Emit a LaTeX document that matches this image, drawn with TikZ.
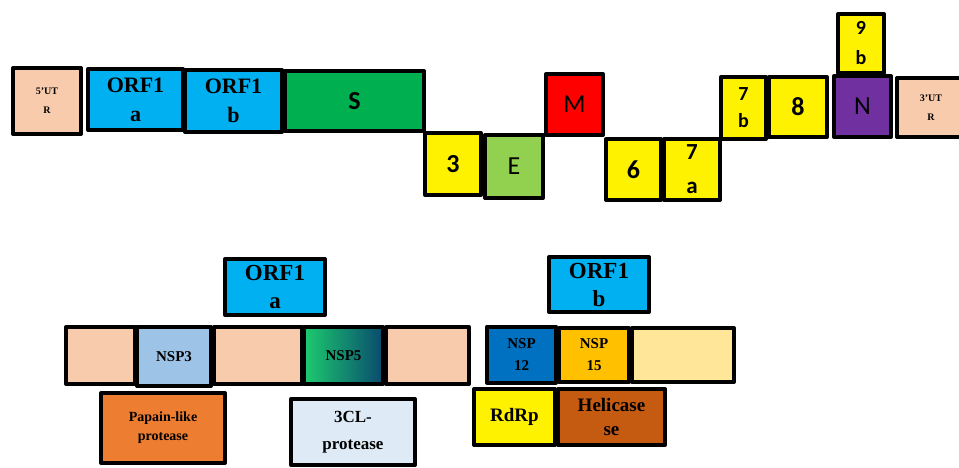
\documentclass[tikz,border=0pt]{standalone}
\usepackage{fontspec}
\setmainfont{Liberation Serif}
\newfontfamily\calfont{Carlito}

\definecolor{peach}{HTML}{F8CBAD}
\definecolor{orfblue}{HTML}{00B0F0}
\definecolor{sgreen}{HTML}{00B050}
\definecolor{egreen}{HTML}{92D050}
\definecolor{npurple}{HTML}{7030A0}
\definecolor{nspthree}{HTML}{9DC3E6}
\definecolor{nspfivea}{HTML}{1CCB6E}
\definecolor{nspfiveb}{HTML}{0A4A6E}
\definecolor{papain}{HTML}{ED7D31}
\definecolor{clpro}{HTML}{DEEBF7}
\definecolor{nsptwelve}{HTML}{0070C0}
\definecolor{nspfifteen}{HTML}{FFC000}
\definecolor{palegold}{HTML}{FFE699}
\definecolor{helibrown}{HTML}{C55A11}

\begin{document}
\begin{tikzpicture}[x=1pt,y=-1pt,
    seg/.style={draw=black,line width=4pt,line join=round,inner sep=0pt,align=center},
    ]
		\useasboundingbox (0,0) rectangle (959,467);
		\clip (0,0) rectangle (959,467);

		% genome
		\node[seg,fill=peach,minimum width=68,minimum height=66,font=\fontsize{10}{19}\selectfont\bfseries] (utrfive) at (47,101) {5'UT\\R};
		\node[seg,fill=orfblue,minimum width=95,minimum height=61,font=\fontsize{22}{29}\selectfont\bfseries] (orfa) at (135.5,99.5) {ORF1\\a};
		\node[seg,fill=orfblue,minimum width=97,minimum height=62,font=\fontsize{22}{29}\selectfont\bfseries] (orfb) at (233.5,101) {ORF1\\b};
		\node[seg,fill=sgreen,minimum width=139,minimum height=60,font=\calfont\fontsize{26}{30}\selectfont\bfseries] (genS) at (354.5,101) {S};
		\node[seg,fill=yellow,minimum width=56,minimum height=62,font=\calfont\fontsize{26}{30}\selectfont\bfseries] (genthree) at (453,164) {3};
		\node[seg,fill=egreen,minimum width=58,minimum height=63,font=\calfont\fontsize{26}{30}\selectfont] (genE) at (514,166.5) {E};
		\node[seg,fill=red,minimum width=57,minimum height=61,font=\calfont\fontsize{26}{30}\selectfont] (genM) at (574.5,104.5) {M};
		\node[seg,fill=yellow,minimum width=55,minimum height=61,font=\calfont\fontsize{26}{30}\selectfont\bfseries] (gensix) at (633.5,169.5) {6};
		\node[seg,fill=yellow,minimum width=56,minimum height=61,font=\calfont\fontsize{23}{34}\selectfont\bfseries] (gensevena) at (692,169.5) {7\\a};
		\node[seg,fill=yellow,minimum width=45,minimum height=62,font=\calfont\fontsize{20}{27}\selectfont\bfseries] (gensevenb) at (743.5,108) {7\\b};
		\node[seg,fill=yellow,minimum width=58,minimum height=60,font=\calfont\fontsize{26}{30}\selectfont\bfseries] (geneight) at (798,107) {8};
		\node[seg,fill=npurple,minimum width=57,minimum height=61,font=\calfont\fontsize{26}{30}\selectfont] (genN) at (862.5,106.5) {N};
		\node[seg,fill=yellow,minimum width=46,minimum height=59,font=\calfont\fontsize{20}{30}\selectfont\bfseries] (genninen) at (861,43.5) {9\\b};
		\node[seg,fill=peach,minimum width=68,minimum height=59,font=\fontsize{10}{19}\selectfont\bfseries] (utrthree) at (931,107.5) {3'UT\\R};

		% ORF1a
		\node[seg,fill=orfblue,minimum width=100,minimum height=56,font=\fontsize{23}{28}\selectfont\bfseries] (porfa) at (275,287) {ORF1\\a};
		\node[seg,fill=peach,minimum width=69,minimum height=57] (pone) at (100.5,355.5) {};
		\node[seg,fill=peach,minimum width=88,minimum height=57] (ptwo) at (258,355.5) {};
		\node[seg,fill=peach,minimum width=83,minimum height=57] (pthree) at (427.5,355.5) {};
		\node[seg,fill=nspthree,minimum width=74,minimum height=59,font=\fontsize{15}{18}\selectfont\bfseries] (nspthree) at (174,356.5) {NSP3};
		\node[seg,left color=nspfivea,right color=nspfiveb,minimum width=79,minimum height=57,font=\fontsize{15}{18}\selectfont\bfseries] (nspfive) at (343.5,355.5) {NSP5};
		\node[seg,fill=papain,minimum width=124,minimum height=70,font=\fontsize{14}{19}\selectfont\bfseries] (plpro) at (163,428) {Papain-like\\protease};
		\node[seg,fill=clpro,minimum width=124,minimum height=66,font=\fontsize{17}{27}\selectfont\bfseries] (clpro) at (353,432) {3CL-\\protease};

		% ORF1b
		\node[seg,fill=orfblue,minimum width=100,minimum height=55,font=\fontsize{23}{28}\selectfont\bfseries] (porfb) at (599,284.5) {ORF1\\b};
		\node[seg,fill=palegold,minimum width=102,minimum height=54] (pgold) at (683,355) {};
		\node[seg,fill=nspfifteen,minimum width=70,minimum height=54,font=\fontsize{15}{22}\selectfont\bfseries] (nspfifteen) at (594,355) {NSP\\15};
		\node[seg,fill=nsptwelve,minimum width=69,minimum height=56,font=\fontsize{15}{22}\selectfont\bfseries] (nsptwelve) at (521.5,354.5) {NSP\\12};
		\node[seg,fill=yellow,minimum width=81,minimum height=56,font=\fontsize{19}{24}\selectfont\bfseries] (rdrp) at (514.5,417) {RdRp};
		\node[seg,fill=helibrown,minimum width=107,minimum height=56,font=\fontsize{19}{24}\selectfont\bfseries] (heli) at (611.5,417) {Helicase\\se};
    \end{tikzpicture}
\end{document}
